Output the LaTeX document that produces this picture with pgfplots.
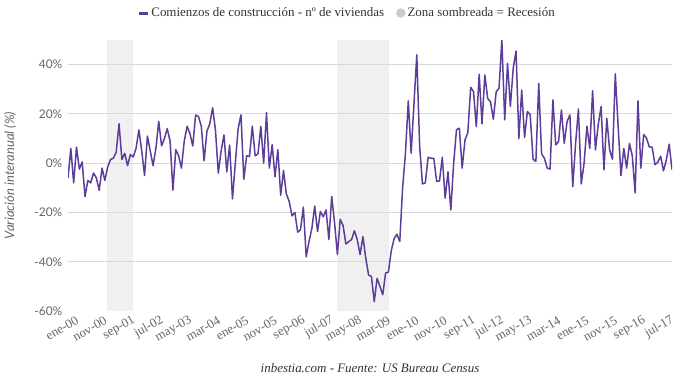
\documentclass[border=0pt]{standalone}
\usepackage{fontspec}
\setmainfont{Liberation Serif}
\newfontfamily\lato{Lato}
\usepackage{pgfplots}
\usepackage{pgfplotstable}
\pgfplotsset{compat=1.18}
\definecolor{serie}{RGB}{94,60,153}
\definecolor{bandc}{RGB}{240,240,240}
\definecolor{gridc}{RGB}{216,216,216}
\definecolor{lab}{RGB}{102,102,102}
\definecolor{txt}{RGB}{51,51,51}
\pgfplotstableread{
i v
0 -6
1 6
2 -8
3 6.5
4 -2.4
5 0.5
6 -13.5
7 -7
8 -8
9 -4
10 -6
11 -11
12 -2
13 -7
14 -1.5
15 1.5
16 2
17 4.5
18 16
19 1.5
20 4
21 -1
22 3.5
23 2.5
24 6
25 13.5
26 5
27 -5
28 11
29 5
30 -1
31 6
32 17
33 7
34 10
35 14
36 9
37 -11
38 5.5
39 3
40 -2
41 9
42 15
43 12
44 7
45 19.5
46 19
47 15
48 1
49 13
50 16
51 22.5
52 13.5
53 -4
54 5
55 11.5
56 -3.5
57 7.4
58 -14.5
59 0
60 14
61 19.6
62 -6.5
63 3
64 2.7
65 15
66 3
67 3.8
68 15
69 0
70 20.5
71 -2
72 7.5
73 -5.5
74 5.5
75 -13
76 -3
77 -12.5
78 -15.5
79 -21.4
80 -20
81 -28
82 -27
83 -17.8
84 -38
85 -31.8
86 -26.5
87 -17.4
88 -27.8
89 -19.6
90 -21.8
91 -19
92 -31
93 -13.5
94 -24.2
95 -37
96 -22.8
97 -25.3
98 -32.8
99 -31.8
100 -31
101 -27.4
102 -31
103 -37.1
104 -29.8
105 -38.5
106 -45.4
107 -46
108 -56.2
109 -46.8
110 -50
111 -53.4
112 -44.6
113 -44.2
114 -35.5
115 -30.7
116 -28.8
117 -31.8
118 -10
119 4
120 25.3
121 4
122 24
123 44
124 7
125 -8.4
126 -8
127 2.4
128 2
129 2
130 -7.4
131 -7.2
132 2.4
133 -14.2
134 -3.5
135 -19
136 0
137 13.6
138 14.2
139 -2
140 9.4
141 12.4
142 30.8
143 29
144 14.8
145 36.1
146 16
147 35.8
148 26.3
149 24.9
150 17.8
151 29
152 30.4
153 50
154 17.6
155 40.5
156 23
157 38.5
158 45.5
159 10
160 29.7
161 10.5
162 21
163 19.6
164 1.6
165 0.7
166 32.4
167 3.8
168 2
169 -2
170 -2.4
171 25.7
172 7.4
173 8.8
174 21.6
175 8.1
176 16.9
177 19.6
178 -9.5
179 8
180 22
181 -8.4
182 0
183 15
184 6
185 29.4
186 5.4
187 15.8
188 23
189 -2.7
190 18.2
191 5.4
192 1.6
193 36.3
194 15
195 -5
196 6
197 -2
198 8
199 3
200 -12.1
201 25.3
202 -2
203 11.6
204 10.2
205 6.6
206 6.5
207 -0.6
208 0.4
209 2.8
210 -3.1
211 1.3
212 7.7
213 -2.6
}\datatable
\begin{document}
\begin{tikzpicture}
\useasboundingbox (0,0) rectangle (680bp,380bp);
\begin{axis}[
  at={(68bp,69bp)}, anchor=south west,
  scale only axis, width=604bp, height=271bp,
  xmin=0, xmax=213, ymin=-60, ymax=50,
  axis line style={draw=none},
  major tick length=0pt,
  ytick={-60,-40,-20,0,20,40},
  yticklabels={-60\%,-40\%,-20\%,0\%,20\%,40\%},
  xtick={0,10,...,210},
  xticklabels={ene-00,nov-00,sep-01,jul-02,may-03,mar-04,ene-05,nov-05,sep-06,jul-07,may-08,mar-09,ene-10,nov-10,sep-11,jul-12,may-13,mar-14,ene-15,nov-15,sep-16,jul-17},
  xticklabel style={rotate=30, anchor=east, font=\fontsize{13}{13}\selectfont, text=lab, inner sep=0pt, xshift=4bp, yshift=-12bp},
  yticklabel style={font=\lato\fontsize{12}{12}\selectfont, text=lab, inner sep=0pt, xshift=-5.5bp},
  ylabel={Variación interanual (\%)},
  ylabel style={font=\lato\itshape\fontsize{13}{13}\selectfont, text=lab, at={(axis description cs:-0.096,0.5)}, anchor=center},
  xlabel={inbestia.com - Fuente: US Bureau Census},
  xlabel style={font=\itshape\fontsize{13}{13}\selectfont, text=txt, at={(axis description cs:0.5,-0.21)}, anchor=center},
  legend columns=2,
  legend style={at={(axis description cs:0.462,1.0996)}, anchor=center, draw=none, fill=none,
    font=\fontsize{13}{13}\selectfont, text=txt,
    /tikz/every even column/.append style={column sep=10bp}},
]
\addplot[fill=bandc, draw=none, forget plot] coordinates {(13.75,-60) (13.75,50) (22.9,50) (22.9,-60)};
\addplot[fill=bandc, draw=none, forget plot] coordinates {(94.85,-60) (94.85,50) (113.2,50) (113.2,-60)};
\addplot[gridc, line width=1bp, forget plot] coordinates {(0,-60) (213,-60)};
\addplot[gridc, line width=1bp, forget plot] coordinates {(0,-40) (213,-40)};
\addplot[gridc, line width=1bp, forget plot] coordinates {(0,-20) (213,-20)};
\addplot[gridc, line width=1bp, forget plot] coordinates {(0,0) (213,0)};
\addplot[gridc, line width=1bp, forget plot] coordinates {(0,20) (213,20)};
\addplot[gridc, line width=1bp, forget plot] coordinates {(0,40) (213,40)};
\addplot[serie, line width=1.5bp, line join=round, no markers,
  legend image code/.code={\draw[serie, line width=3bp] (0bp,0bp) -- (9bp,0bp);}] table[x=i, y=v] {\datatable};
\addlegendentry{Comienzos de construcción - nº de viviendas}
\addlegendimage{legend image code/.code={\fill[gray!40] (4.5bp,0bp) circle (4.5bp);}}
\addlegendentry{Zona sombreada = Recesión}
\end{axis}
\end{tikzpicture}
\end{document}
